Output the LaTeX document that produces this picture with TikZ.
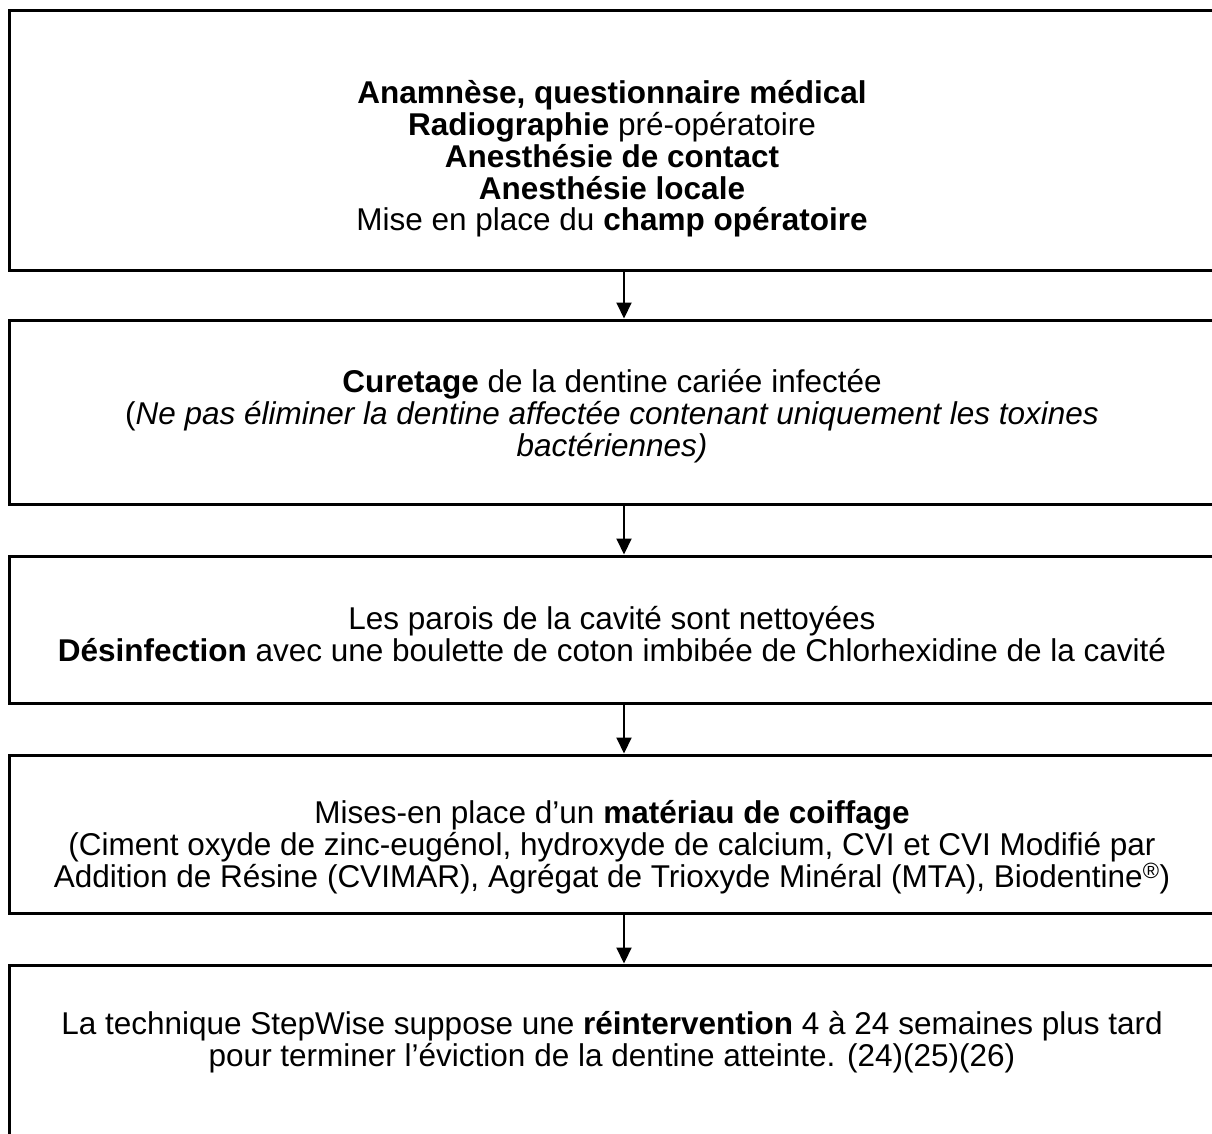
\documentclass[tikz,border=0pt]{standalone}
\usepackage{fontspec}
\setmainfont{Liberation Sans}
\usetikzlibrary{arrows.meta}
\begin{document}
\begin{tikzpicture}[x=1pt,y=-1pt,
  stepbox/.style={draw=black,line width=3pt,rectangle,inner sep=0pt,minimum width=1230pt},
  steptext/.style={align=center,inner sep=0pt,font=\fontsize{31.5}{31.8}\selectfont},
  flow/.style={line width=2pt,-{Triangle[width=15pt,length=16pt]}}]
\useasboundingbox (0,0) rectangle (1212,1133);
\fill[white] (0,0) rectangle (1212,1133);

% boxes (centre x = 624)
\node[stepbox,minimum height=260pt] (b1) at (624,140) {};
\node[stepbox,minimum height=184pt] (b2) at (624,412) {};
\node[stepbox,minimum height=147pt] (b3) at (624,629.5) {};
\node[stepbox,minimum height=158pt] (b4) at (624,834) {};
\node[stepbox,minimum height=240pt] (b5) at (624,1085) {};

% texts
\node[steptext] (t1) at (612,159) {\textbf{Anamnèse, questionnaire médical}\\
  \textbf{Radiographie} pré-opératoire\\
  \textbf{Anesthésie de contact}\\
  \textbf{Anesthésie locale}\\
  Mise en place du \textbf{champ opératoire}};
\node[steptext] (t2) at (612,416) {\textbf{Curetage} de la dentine cariée infectée\\
  (\textit{Ne pas éliminer la dentine affectée contenant uniquement les toxines}\\
  \textit{bactériennes)}};
\node[steptext] (t3) at (612,634) {Les parois de la cavité sont nettoyées\\
  \textbf{Désinfection} avec une boulette de coton imbibée de Chlorhexidine de la cavité};
\node[steptext] (t4) at (612,847) {Mises-en place d’un \textbf{matériau de coiffage}\\
  (Ciment oxyde de zinc-eugénol, hydroxyde de calcium, CVI et CVI Modifié par\\
  Addition de Résine (CVIMAR), Agrégat de Trioxyde Minéral (MTA), Biodentine\textsuperscript{®})};
\node[steptext] (t5) at (612,1042) {La technique StepWise suppose une \textbf{réintervention} 4 à 24 semaines plus tard\\
  pour terminer l’éviction de la dentine atteinte. (24)(25)(26)};

% connectors
\draw[flow] (b1.south) -- (b2.north);
\draw[flow] (b2.south) -- (b3.north);
\draw[flow] (b3.south) -- (b4.north);
\draw[flow] (b4.south) -- (b5.north);
\end{tikzpicture}
\end{document}
